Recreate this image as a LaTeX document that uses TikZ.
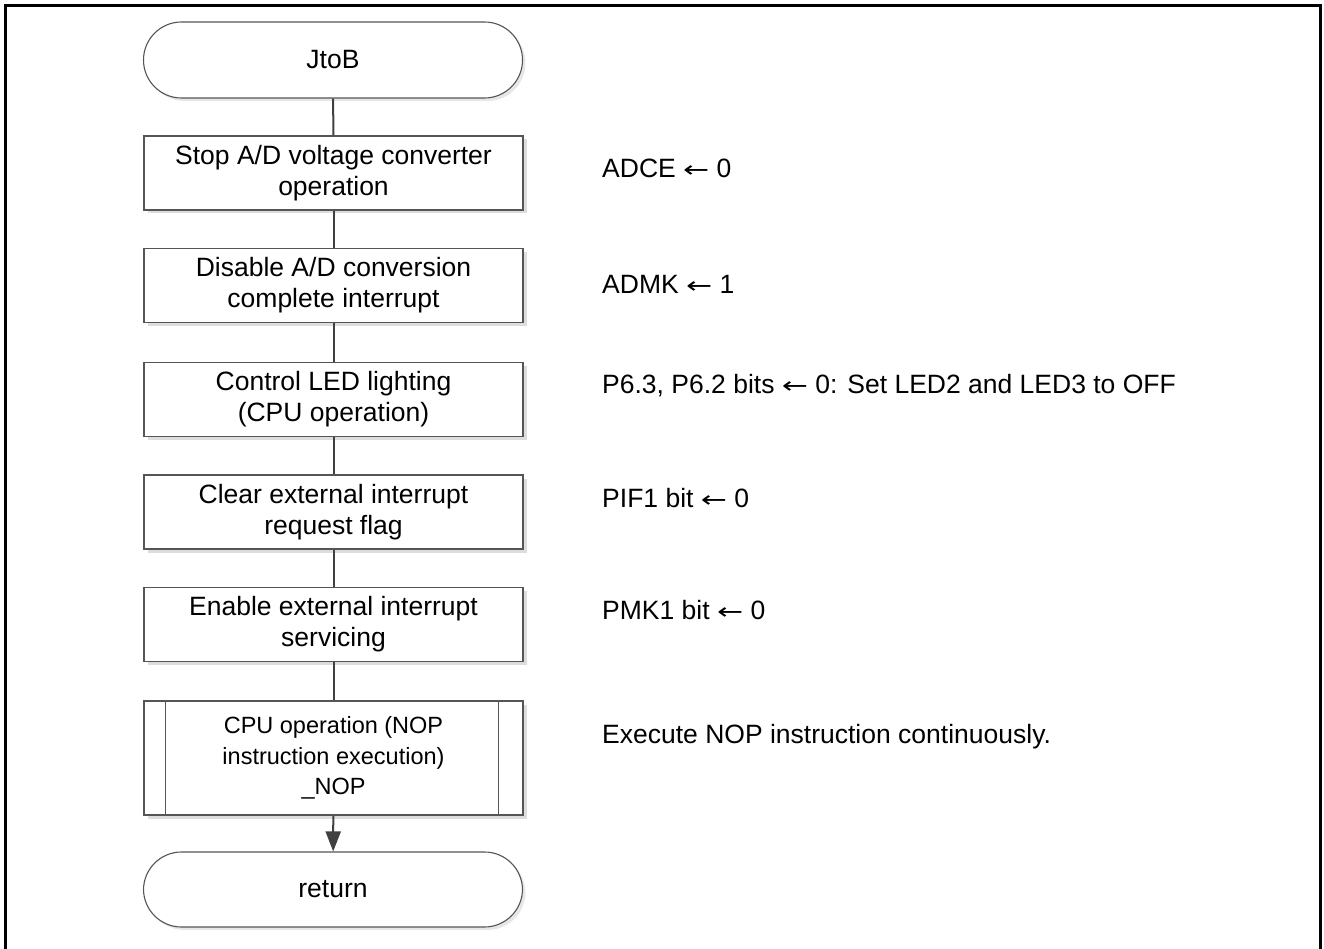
\documentclass[tikz,border=0pt]{standalone}
\usepackage{fontspec}
\setmainfont{Liberation Sans}
\newfontfamily\arrfont{DejaVu Sans}
\usetikzlibrary{arrows.meta,shadows}
\definecolor{boxline}{HTML}{555555}
\definecolor{connc}{HTML}{404040}
\definecolor{shadec}{HTML}{DDDDDD}
\newcommand{\myarr}{\scalebox{1.25}[0.9]{\arrfont\fontsize{25}{31}\selectfont ←}}
\tikzset{
  mainfont/.style={font=\fontsize{26.5}{31}\selectfont},
  procbox/.style={draw=boxline, line width=1.1pt, fill=white, rectangle, minimum width=379pt, minimum height=74pt, inner sep=0pt, align=center, mainfont,
    general shadow={fill=shadec, shadow xshift=3.5pt, shadow yshift=-3.5pt}},
  predbox/.style={procbox, minimum height=114pt, font=\fontsize{23.5}{30.5}\selectfont},
  termbox/.style={draw=boxline, line width=1.1pt, fill=white, rectangle, rounded corners=38pt, minimum width=379pt, minimum height=76pt, inner sep=0pt, align=center, mainfont,
    general shadow={fill=shadec!70, shadow xshift=3pt, shadow yshift=-3pt}},
  connline/.style={draw=connc, line width=2pt},
  note/.style={anchor=base west, inner sep=0pt, mainfont},
}
\begin{document}
\begin{tikzpicture}[x=1pt,y=-1pt]
\useasboundingbox (0,0) rectangle (1324,949);
\draw[line width=3pt] (5.5,949) -- (5.5,5.5) -- (1320.5,5.5) -- (1320.5,949);

\node[termbox] (start) at (333,60) {JtoB};
\node[procbox] (b1) at (333.5,173) {Stop A/D voltage converter\\operation};
\node[procbox] (b2) at (333.5,285.5) {Disable A/D conversion\\complete interrupt};
\node[procbox] (b3) at (333.5,399.5) {Control LED lighting\\(CPU operation)};
\node[procbox] (b4) at (333.5,512) {Clear external interrupt\\request flag};
\node[procbox] (b5) at (333.5,624.5) {Enable external interrupt\\servicing};
\node[predbox] (p6) at (333.5,758) {CPU operation (NOP\\instruction execution)\\\_NOP};
\draw[boxline, line width=1.1pt] ([xshift=22pt]p6.north west) -- ([xshift=22pt]p6.south west);
\draw[boxline, line width=1.1pt] ([xshift=-25pt]p6.north east) -- ([xshift=-25pt]p6.south east);
\node[termbox, minimum height=75pt] (ret) at (333,889.5) {return};

\draw[connline] (start) -- (b1);
\draw[connline] (b1) -- (b2);
\draw[connline] (b2) -- (b3);
\draw[connline] (b3) -- (b4);
\draw[connline] (b4) -- (b5);
\draw[connline] (b5) -- (p6);
\draw[connline, -{Triangle[length=20pt,width=15pt]}, fill=connc] (p6) -- (ret);

\node[note] (n1) at (602,178) {ADCE \myarr{} 0};
\node[note] (n2) at (602,294) {ADMK \myarr{} 1};
\node[note] (n3) at (602,393) {P6.3, P6.2 bits \myarr{} 0: Set LED2 and LED3 to OFF};
\node[note] (n4) at (602,507) {PIF1 bit \myarr{} 0};
\node[note] (n5) at (602,619) {PMK1 bit \myarr{} 0};
\node[note] (n6) at (602,743) {Execute NOP instruction continuously.};
\end{tikzpicture}
\end{document}
